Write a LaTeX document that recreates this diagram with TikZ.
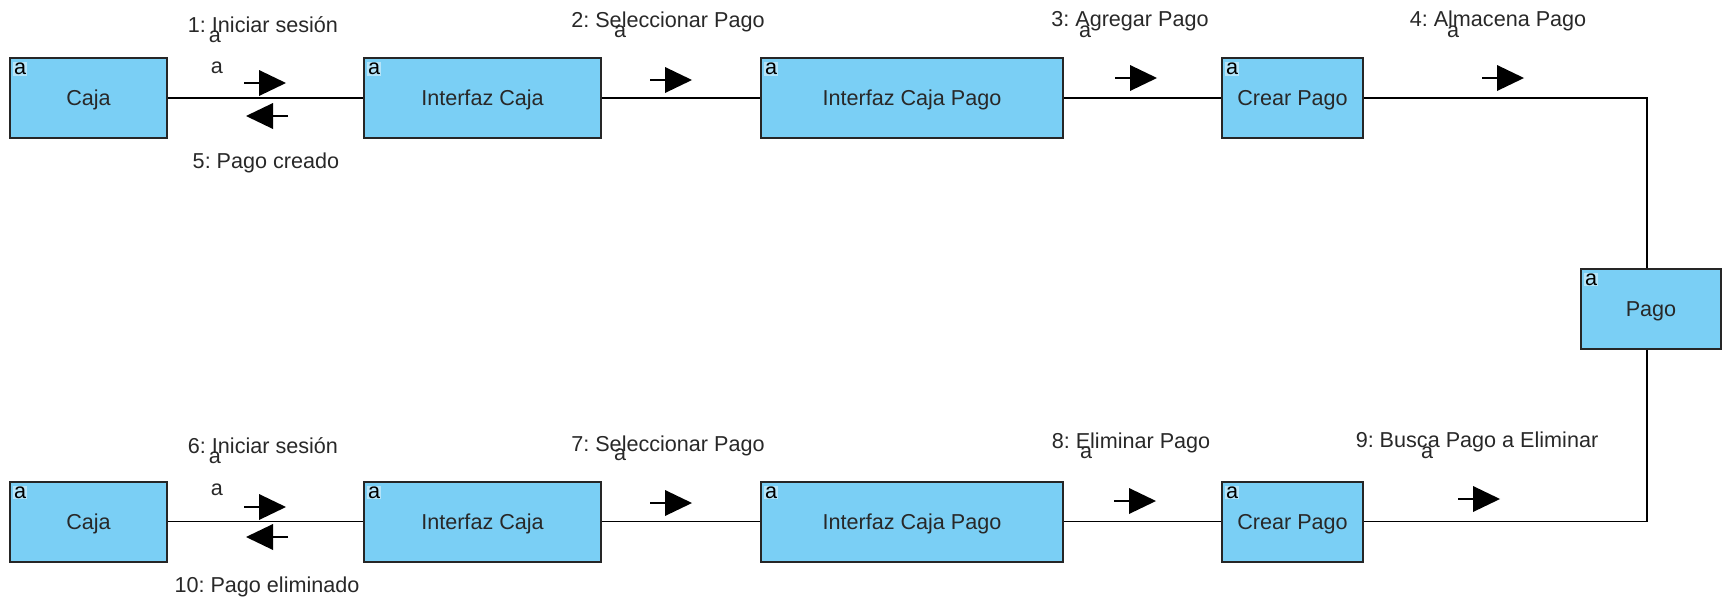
\documentclass[tikz,border=0pt]{standalone}
\usepackage{fontspec}
\setmainfont{Liberation Sans}
\frenchspacing
\definecolor{boxblue}{RGB}{122,207,245}
\definecolor{inkgray}{RGB}{40,40,40}
\begin{document}
\begin{tikzpicture}[x=1pt,y=-1pt,
  every node/.style={font=\fontsize{21.6}{24}\selectfont, text=inkgray},
  obj/.style={draw=black!85, line width=2pt, fill=boxblue, minimum height=80pt,
    inner sep=0pt, text height=15pt, text depth=0pt},
  link/.style={line width=1.5pt, draw=black},
  corner/.style={anchor=north west, inner sep=0.8pt, fill=white, fill opacity=0.45,
    text opacity=1, text=black},
  lbl/.style={anchor=base, inner sep=0pt},
  tag/.style={inner sep=0pt},
  fwd/.pic={\draw[line width=1.8pt] (0,0) -- (17,0);
            \fill[black] (15,-13) -- (42,0) -- (15,13) -- cycle;},
  bwd/.pic={\draw[line width=1.8pt] (0,0) -- (-17,0);
            \fill[black] (-15,-13) -- (-42,0) -- (-15,13) -- cycle;},
]
\useasboundingbox (0,0) rectangle (1722,600);

% ---- upper row: creating a payment ----
\node[obj, minimum width=157pt] (caja1) at (88.5,98) {Caja};
\node[obj, minimum width=237pt] (ic1)   at (482.5,98) {Interfaz Caja};
\node[obj, minimum width=302pt] (icp1)  at (912,98) {Interfaz Caja Pago};
\node[obj, minimum width=141pt] (cp1)   at (1292.5,98) {Crear Pago};

% ---- entity on the right ----
\node[obj, minimum width=140pt] (pago)  at (1651,308.5) {Pago};

% ---- lower row: deleting a payment ----
\node[obj, minimum width=157pt] (caja2) at (88.5,521.5) {Caja};
\node[obj, minimum width=237pt] (ic2)   at (482.5,521.5) {Interfaz Caja};
\node[obj, minimum width=302pt] (icp2)  at (912,521.5) {Interfaz Caja Pago};
\node[obj, minimum width=141pt] (cp2)   at (1292.5,521.5) {Crear Pago};

% small tags in the top-left corner of every object
\foreach \n in {caja1,ic1,icp1,cp1,pago,caja2,ic2,icp2,cp2}
  \node[corner] (\n-tag) at ([shift={(4,5)}]\n.north west) {a};

% ---- links ----
\coordinate (bendtop) at (1647,98);
\coordinate (bendbot) at (1647,521.5);
\draw[link] (caja1) -- (ic1);
\draw[link] (ic1) -- (icp1);
\draw[link] (icp1) -- (cp1);
\draw[link] (cp1.east) -- (bendtop) -- (bendtop |- pago.north);
\draw[link] (caja2) -- (ic2);
\draw[link] (ic2) -- (icp2);
\draw[link] (icp2) -- (cp2);
\draw[link] (bendbot |- pago.south) -- (bendbot) -- (cp2.east);

% ---- message arrows ----
\pic at (244,83) {fwd};
\pic at (288,116) {bwd};
\pic at (650,80) {fwd};
\pic at (1115,78) {fwd};
\pic at (1482,78) {fwd};
\pic at (244,507) {fwd};
\pic at (288,537) {bwd};
\pic at (650,503) {fwd};
\pic at (1114,501) {fwd};
\pic at (1458,499) {fwd};

% ---- message labels ----
\node[lbl] (m1)  at (263,32)   {1: Iniciar sesión};
\node[lbl] (m2)  at (668,27)   {2: Seleccionar Pago};
\node[lbl] (m3)  at (1130,26)  {3: Agregar Pago};
\node[lbl] (m4)  at (1498,26)  {4: Almacena Pago};
\node[lbl] (m5)  at (266,168)  {5: Pago creado};
\node[lbl] (m6)  at (263,453)  {6: Iniciar sesión};
\node[lbl] (m7)  at (668,451)  {7: Seleccionar Pago};
\node[lbl] (m8)  at (1131,448) {8: Eliminar Pago};
\node[lbl] (m9)  at (1477,447) {9: Busca Pago a Eliminar};
\node[lbl] (m10) at (267,592)  {10: Pago eliminado};

% ---- role tags on the links ----
\node[tag] (t1)  at (215,37)   {a};
\node[tag] (t1b) at (217,68)   {a};
\node[tag] (t2)  at (620,32)   {a};
\node[tag] (t3)  at (1085,32)  {a};
\node[tag] (t4)  at (1453,32)  {a};
\node[tag] (t6)  at (215,458)  {a};
\node[tag] (t6b) at (217,490)  {a};
\node[tag] (t7)  at (620,455)  {a};
\node[tag] (t8)  at (1086,453) {a};
\node[tag] (t9)  at (1427,453) {a};
\end{tikzpicture}
\end{document}
